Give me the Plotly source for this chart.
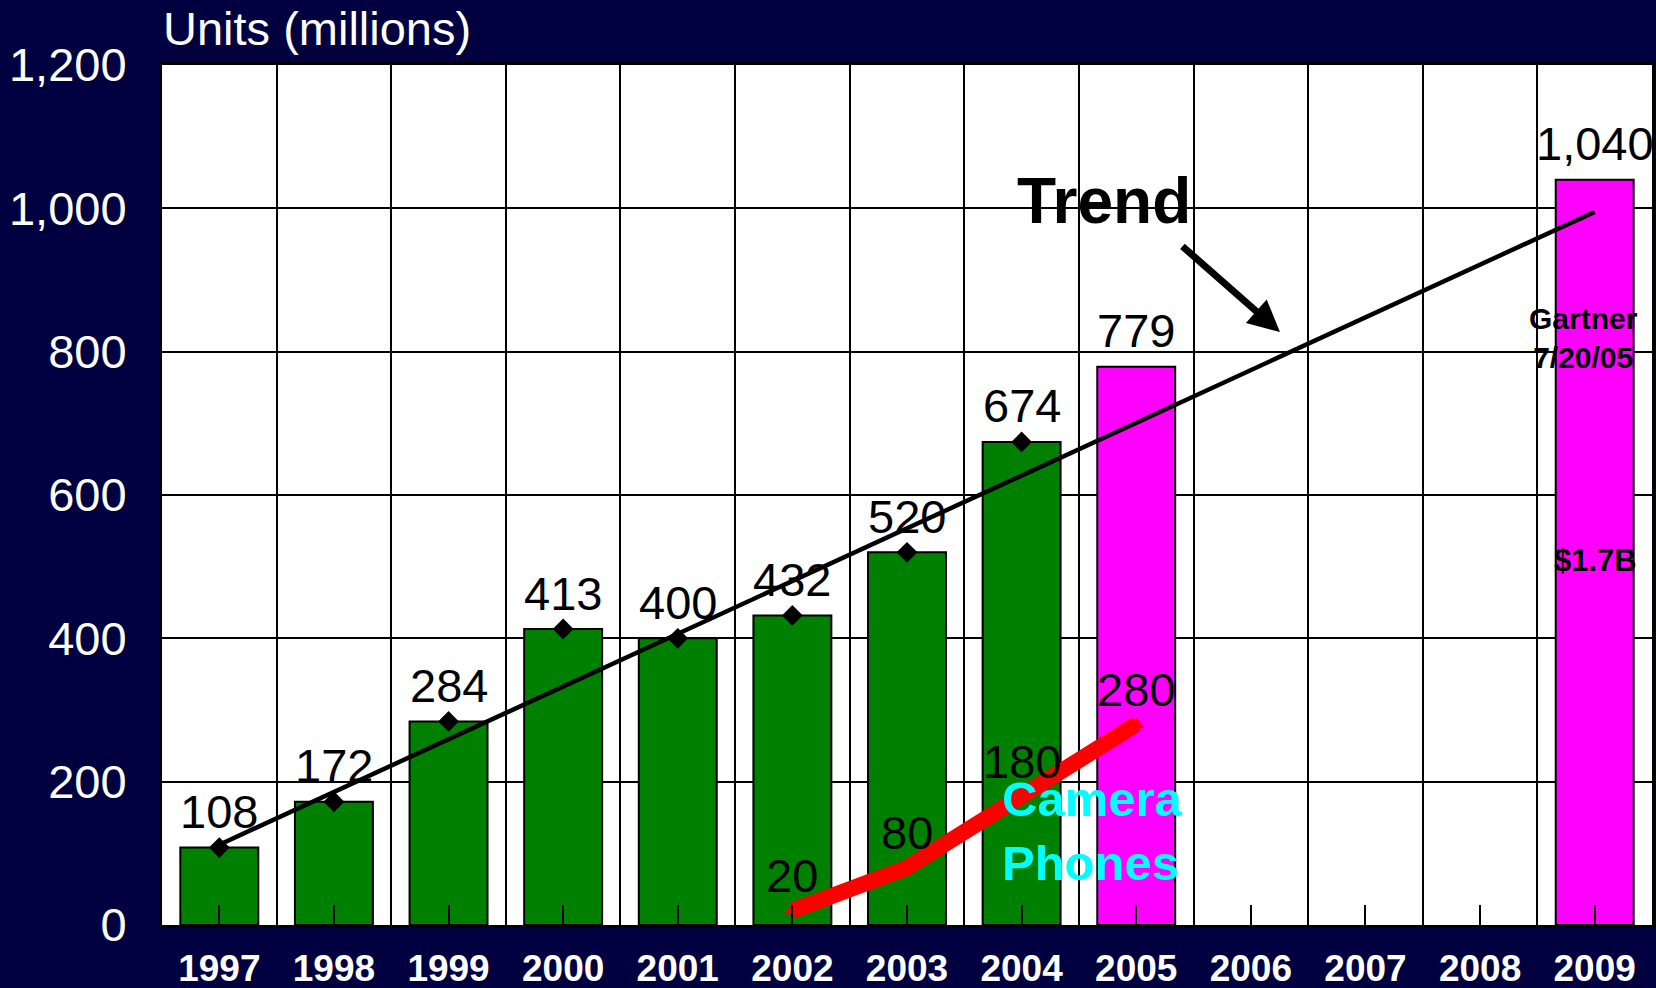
import plotly.graph_objects as go

# ---- data ----
years = ["1997", "1998", "1999", "2000", "2001", "2002", "2003", "2004",
         "2005", "2006", "2007", "2008", "2009"]
actual_years = ["1997", "1998", "1999", "2000", "2001", "2002", "2003", "2004"]
actual_units = [108, 172, 284, 413, 400, 432, 520, 674]
forecast_years = ["2005", "2009"]
forecast_units = [779, 1040]
camera_years = ["2002", "2003", "2004", "2005"]
camera_units = [20, 80, 180, 280]
trend_years = ["1997", "2009"]
trend_units = [112, 995]
y_ticks = [0, 200, 400, 600, 800, 1000, 1200]

FONT = "Liberation Sans, Arial, sans-serif"
BG = "#000040"
GREEN = "#008000"
MAGENTA = "#FF00FF"

fig = go.Figure()

fig.add_trace(go.Bar(x=actual_years, y=actual_units, width=0.68,
                     marker=dict(color=GREEN, line=dict(color="black", width=2)),
                     showlegend=False))
fig.add_trace(go.Bar(x=forecast_years, y=forecast_units, width=0.68,
                     marker=dict(color=MAGENTA, line=dict(color="black", width=2)),
                     showlegend=False))
fig.add_trace(go.Scatter(x=trend_years, y=trend_units, mode="lines",
                         line=dict(color="black", width=4.5), showlegend=False))
fig.add_trace(go.Scatter(x=actual_years, y=actual_units, mode="markers",
                         marker=dict(symbol="diamond", size=16, color="black"),
                         showlegend=False))
fig.add_trace(go.Scatter(x=camera_years, y=camera_units, mode="lines+markers",
                         line=dict(color="#FF0000", width=16),
                         marker=dict(symbol="triangle-up", size=14, color="#FF0000"),
                         showlegend=False))

annotations = []
for yr, v in list(zip(actual_years, actual_units)) + list(zip(forecast_years, forecast_units)):
    annotations.append(dict(x=years.index(yr), y=v, text=f"{v:,}", showarrow=False, yshift=36,
                            xref="x", yref="y", yanchor="middle",
                            font=dict(family=FONT, size=47, color="black")))
for yr, v in zip(camera_years, camera_units):
    annotations.append(dict(x=years.index(yr), y=v, text=f"{v:,}", showarrow=False, yshift=35,
                            xref="x", yref="y", yanchor="middle",
                            font=dict(family=FONT, size=47, color="black")))

annotations += [
    dict(xref="paper", yref="paper", x=-0.001, y=1.0424, xanchor="left", yanchor="middle",
         text="Units (millions)", showarrow=False,
         font=dict(family=FONT, size=47, color="white")),
    dict(xref="paper", yref="paper", x=0.632, y=0.842, xanchor="center", yanchor="middle",
         text="<b>Trend</b>", showarrow=False,
         font=dict(family=FONT, size=64, color="black")),
    dict(xref="paper", yref="paper", x=0.7503, y=0.6895, text="", showarrow=True,
         ax=-99, ay=-87, arrowhead=2, arrowwidth=7, arrowsize=0.9,
         arrowcolor="black", standoff=0),
    dict(xref="paper", yref="paper", x=0.9537, y=0.6831, xanchor="center", yanchor="middle",
         text="<b>Gartner<br>7/20/05</b>", showarrow=False, align="center",
         font=dict(family=FONT, size=30, color="black")),
    dict(xref="paper", yref="paper", x=0.9624, y=0.4244, xanchor="center", yanchor="middle",
         text="<b>$1.7B</b>", showarrow=False,
         font=dict(family=FONT, size=31, color="black")),
    dict(xref="paper", yref="paper", x=0.5624, y=0.1093, xanchor="left", yanchor="middle",
         text="<b>Camera<br>Phones</b>", showarrow=False, align="left",
         font=dict(family=FONT, size=49, color="#00FFFF")),
]

fig.update_layout(
    width=1656, height=988,
    margin=dict(l=162, r=4, t=65, b=63),
    paper_bgcolor=BG, plot_bgcolor="white",
    barmode="overlay",
    annotations=annotations,
    xaxis=dict(type="category", categoryorder="array", categoryarray=years,
               range=[-0.5, 12.5], tickson="boundaries", ticks="", automargin=False,
               showgrid=True, gridcolor="black", gridwidth=2,
               showline=True, linecolor="black", linewidth=3, mirror=True,
               tickfont=dict(family=FONT, size=37, color="white", weight="bold"),
               ticklabelstandoff=9),
    xaxis2=dict(overlaying="x", range=[-0.5, 12.5], tickvals=list(range(len(years))),
                showticklabels=False, ticks="inside", ticklen=20, tickwidth=2,
                tickcolor="black", showgrid=False, zeroline=False, side="bottom",
                layer="above traces", automargin=False),
    yaxis=dict(range=[0, 1200], tickvals=y_ticks, tickformat=",", automargin=False,
               showgrid=True, gridcolor="black", gridwidth=2, zeroline=False,
               showline=True, linecolor="black", linewidth=3, mirror=True,
               tickfont=dict(family=FONT, size=47, color="white"),
               ticklabelstandoff=23),
)
# invisible trace to activate the centre tick-mark axis
fig.add_trace(go.Scatter(x=[0], y=[0], xaxis="x2", mode="markers",
                         marker=dict(opacity=0), showlegend=False, hoverinfo="skip"))

fig.write_html("out.html", config={"displayModeBar": False},
               post_script="document.body.style.margin='0';")
